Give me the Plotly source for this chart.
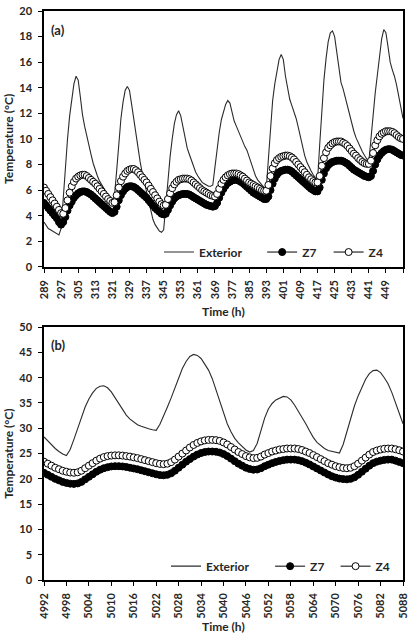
import plotly.graph_objects as go

# ---- panel (a): hours 289..457 ----
hours_a = list(range(289, 458))
ticks_a = list(range(289, 458, 8))
ticktext_a = [str(t) for t in ticks_a[:-1]] + [""]

exterior_a = [
    3.5, 3.2, 3.0, 2.9, 2.8, 2.7, 2.6, 2.5,          # 289
    3.0, 5.5, 8.0, 10.0, 11.8, 13.2, 14.3, 14.9,     # 297
    14.6, 13.3, 11.9, 11.0, 10.2, 9.5, 8.8, 8.1,     # 305
    7.5, 7.1, 6.7, 6.4, 6.1, 5.8, 5.5, 5.3,          # 313
    5.1, 5.6, 7.5, 9.8, 11.6, 12.9, 13.8, 14.1,      # 321
    13.8, 12.7, 11.5, 10.4, 9.2, 8.2, 7.3, 6.6,      # 329
    6.0, 5.2, 4.4, 3.7, 3.3, 3.0, 2.8, 2.7,          # 337
    2.9, 4.8, 6.8, 8.6, 10.0, 11.2, 11.9, 12.2,      # 345
    11.8, 10.9, 10.0, 9.3, 8.8, 8.3, 7.8, 7.4,       # 353
    7.1, 6.8, 6.6, 6.5, 6.4, 6.3, 6.3, 6.4,          # 361
    7.8, 9.3, 10.5, 11.5, 12.2, 12.7, 13.0, 12.8,    # 369
    12.1, 11.4, 11.0, 10.6, 10.1, 9.7, 9.4, 9.1,     # 377
    8.6, 8.0, 7.5, 7.1, 6.8, 6.6, 6.4, 6.2,          # 385
    6.1, 8.5, 11.0, 13.0, 14.3, 15.4, 16.2, 16.6,    # 393
    16.2, 14.9, 13.9, 13.1, 12.6, 12.1, 11.6, 10.9,  # 401
    10.1, 9.3, 8.7, 8.2, 7.8, 7.5, 7.2, 6.9,         # 409
    6.7, 9.5, 12.5, 14.6, 16.3, 17.6, 18.3, 18.45,   # 417
    18.0, 16.8, 15.3, 14.4, 13.9, 13.2, 12.5, 11.8,  # 425
    11.1, 10.6, 10.1, 9.7, 9.3, 9.0, 8.7, 8.4,       # 433
    8.2, 10.0, 12.0, 13.6, 15.0, 16.5, 17.8, 18.55,  # 441
    18.3, 17.2, 16.0, 15.4, 14.9, 14.2, 13.3, 12.4,  # 449
    11.6,                                            # 457
]

z7_a = [
    5.0, 4.8, 4.6, 4.4, 4.2, 4.0, 3.8, 3.5,
    3.3, 3.5, 3.9, 4.4, 4.8, 5.1, 5.4, 5.6,
    5.75, 5.85, 5.9, 5.9, 5.85, 5.75, 5.65, 5.5,
    5.35, 5.2, 5.05, 4.9, 4.75, 4.6, 4.45, 4.3,
    4.2, 4.3, 4.7, 5.2, 5.6, 5.9, 6.1, 6.25,
    6.3, 6.3, 6.25, 6.15, 6.0, 5.85, 5.7, 5.55,
    5.4, 5.2, 5.0, 4.8, 4.6, 4.45, 4.3, 4.15,
    4.1, 4.15, 4.45, 4.8, 5.1, 5.35, 5.5, 5.6,
    5.65, 5.7, 5.7, 5.7, 5.65, 5.55, 5.45, 5.35,
    5.25, 5.15, 5.05, 4.95, 4.85, 4.8, 4.75, 4.7,
    4.75, 5.0, 5.4, 5.8, 6.1, 6.35, 6.55, 6.65,
    6.75, 6.8, 6.8, 6.75, 6.65, 6.55, 6.4, 6.25,
    6.1, 5.95, 5.8, 5.7, 5.6, 5.5, 5.4, 5.3,
    5.3, 5.5, 6.0, 6.5, 6.9, 7.2, 7.4, 7.5,
    7.55, 7.6, 7.6, 7.55, 7.45, 7.3, 7.15, 7.0,
    6.85, 6.7, 6.55, 6.4, 6.25, 6.1, 6.0, 5.9,
    5.9, 6.2, 6.8, 7.3, 7.7, 7.95, 8.1, 8.2,
    8.25, 8.3, 8.3, 8.3, 8.25, 8.15, 8.05, 7.9,
    7.75, 7.6, 7.5, 7.4, 7.3, 7.2, 7.1, 7.05,
    7.0, 7.1, 7.5, 8.0, 8.4, 8.7, 8.9, 9.05,
    9.15, 9.2, 9.2, 9.15, 9.05, 8.95, 8.85, 8.75,
    8.7,
]

z4_a = [
    6.2, 5.95, 5.7, 5.45, 5.2, 4.95, 4.7, 4.45,
    4.2, 4.15, 4.6, 5.2, 5.8, 6.3, 6.65, 6.9,
    7.05, 7.15, 7.2, 7.2, 7.1, 6.95, 6.8, 6.65,
    6.5, 6.3, 6.1, 5.9, 5.7, 5.5, 5.3, 5.15,
    5.0, 5.05, 5.6, 6.2, 6.7, 7.05, 7.3, 7.5,
    7.6, 7.65, 7.65, 7.55, 7.4, 7.2, 7.0, 6.8,
    6.6, 6.35, 6.1, 5.85, 5.6, 5.35, 5.1, 4.9,
    4.8, 4.85, 5.3, 5.75, 6.15, 6.45, 6.65, 6.8,
    6.85, 6.9, 6.9, 6.9, 6.85, 6.75, 6.6, 6.45,
    6.3, 6.15, 6.0, 5.9, 5.8, 5.7, 5.6, 5.55,
    5.5, 5.7, 6.1, 6.5, 6.8, 7.0, 7.15, 7.25,
    7.3, 7.3, 7.3, 7.25, 7.15, 7.05, 6.9, 6.75,
    6.6, 6.5, 6.4, 6.3, 6.2, 6.1, 6.0, 5.95,
    5.95, 6.4, 7.1, 7.7, 8.1, 8.35, 8.5, 8.6,
    8.65, 8.7, 8.7, 8.65, 8.55, 8.4, 8.2, 8.0,
    7.8, 7.6, 7.4, 7.2, 7.0, 6.85, 6.7, 6.6,
    6.6, 7.1, 7.9, 8.5, 8.95, 9.3, 9.5, 9.65,
    9.75, 9.8, 9.8, 9.8, 9.7, 9.6, 9.45, 9.25,
    9.05, 8.85, 8.7, 8.5, 8.35, 8.2, 8.1, 8.05,
    8.05, 8.3, 8.9, 9.5, 9.9, 10.2, 10.4, 10.5,
    10.6, 10.6, 10.6, 10.55, 10.45, 10.3, 10.15, 10.05,
    10.0,
]

# ---- panel (b): hours 4992..5088 ----
hours_b = list(range(4992, 5089))
ticks_b = list(range(4992, 5089, 6))

exterior_b = [
    28.3, 27.5, 26.7, 26.0, 25.4, 24.9,   # 4992
    24.6, 25.8, 27.8, 30.0, 32.2, 34.2,   # 4998
    35.8, 37.0, 37.9, 38.3, 38.4, 38.0,   # 5004
    37.2, 36.0, 34.8, 33.6, 32.6, 31.8,   # 5010
    31.2, 30.7, 30.4, 30.1, 29.9, 29.7,   # 5016
    29.6, 30.8, 32.4, 34.2, 36.0, 38.0,   # 5022
    40.0, 41.8, 43.2, 44.2, 44.6, 44.4,   # 5028
    43.8, 42.6, 41.5, 39.8, 37.6, 35.4,   # 5034
    33.0, 30.9, 29.3, 28.0, 27.1, 26.3,   # 5040
    25.7, 25.3, 25.6, 27.0, 29.5, 32.0,   # 5046
    33.8, 34.9, 35.6, 36.0, 36.3, 36.2,   # 5052
    35.6, 34.6, 33.4, 32.2, 30.9, 29.5,   # 5058
    28.2, 27.2, 26.5, 26.0, 25.6, 25.4,   # 5064
    25.2, 25.1, 26.8, 29.4, 32.0, 34.4,   # 5070
    36.4, 38.2, 39.7, 40.8, 41.4, 41.5,   # 5076
    41.0, 40.0, 38.8, 37.1, 35.0, 32.8,   # 5082
    30.9,                                 # 5088
]

z7_b = [
    21.2, 20.8, 20.4, 20.0, 19.7, 19.4,
    19.2, 19.05, 19.0, 19.1, 19.4, 19.9,
    20.4, 20.9, 21.4, 21.8, 22.1, 22.3,
    22.45, 22.5, 22.5, 22.45, 22.35, 22.2,
    22.05, 21.9, 21.7, 21.5, 21.3, 21.1,
    20.9, 20.75, 20.7, 20.8, 21.1, 21.6,
    22.2, 22.8, 23.4, 23.9, 24.4, 24.8,
    25.1, 25.3, 25.4, 25.4, 25.35, 25.2,
    24.9, 24.5, 24.0, 23.5, 23.0, 22.6,
    22.2, 21.95, 21.8, 21.85, 22.1, 22.5,
    22.8, 23.1, 23.35, 23.55, 23.7, 23.8,
    23.8, 23.8, 23.7, 23.5, 23.2, 22.85,
    22.45, 22.05, 21.65, 21.25, 20.85, 20.5,
    20.25, 20.05, 19.95, 19.9, 20.0, 20.3,
    20.8, 21.4, 22.0, 22.6, 23.1, 23.4,
    23.6, 23.75, 23.8, 23.8, 23.6, 23.35,
    23.1,
]

z4_b = [
    23.4, 23.0, 22.6, 22.2, 21.9, 21.6,
    21.4, 21.25, 21.2, 21.3, 21.6, 22.1,
    22.6, 23.1, 23.6, 24.0, 24.3, 24.5,
    24.6, 24.65, 24.65, 24.6, 24.5, 24.4,
    24.25, 24.1, 23.9, 23.7, 23.5, 23.3,
    23.1, 22.95, 22.9, 23.0, 23.3, 23.8,
    24.4, 25.0, 25.6, 26.2, 26.7, 27.1,
    27.4, 27.6, 27.7, 27.7, 27.65, 27.5,
    27.2, 26.8, 26.3, 25.8, 25.3, 24.9,
    24.5, 24.25, 24.1, 24.15, 24.4, 24.8,
    25.1, 25.4, 25.6, 25.8, 25.9, 26.0,
    26.0, 26.0, 25.9, 25.7, 25.4, 25.1,
    24.7, 24.3, 23.9, 23.5, 23.1, 22.8,
    22.5, 22.3, 22.15, 22.1, 22.2, 22.5,
    23.0, 23.6, 24.2, 24.8, 25.3, 25.6,
    25.8, 25.95, 26.0, 26.0, 25.85, 25.65,
    25.4,
]

FONT = "Lato"
TXT = "#262626"


def add_panel(fig, x, ext, z7, z4, xa, ya, legs):
    fig.add_trace(go.Scatter(x=x, y=ext, name="Exterior", mode="lines",
                             line=dict(color="#2b2b2b", width=1.1),
                             xaxis=xa, yaxis=ya, legend=legs[0], showlegend=True))
    fig.add_trace(go.Scatter(x=x, y=z7, name="Z7", mode="lines+markers",
                             line=dict(color="black", width=1),
                             marker=dict(symbol="circle", size=7, color="black",
                                         line=dict(color="black", width=1)),
                             xaxis=xa, yaxis=ya, legend=legs[1], showlegend=True))
    fig.add_trace(go.Scatter(x=x, y=z4, name="Z4", mode="lines+markers",
                             line=dict(color="black", width=1),
                             marker=dict(symbol="circle", size=7, color="white",
                                         line=dict(color="black", width=1)),
                             xaxis=xa, yaxis=ya, legend=legs[2], showlegend=True))


fig = go.Figure()
add_panel(fig, hours_a, exterior_a, z7_a, z4_a, "x", "y",
          ["legend", "legend2", "legend3"])
add_panel(fig, hours_b, exterior_b, z7_b, z4_b, "x2", "y2",
          ["legend4", "legend5", "legend6"])

tick_font = dict(family=FONT, size=11, color=TXT, weight="bold")
title_font = dict(family=FONT, size=12, color=TXT, weight="bold")
legend_font = dict(family=FONT, size=12, color=TXT, weight="bold")
axis_common = dict(showline=True, linecolor="black", linewidth=1.5, mirror=True,
                   ticks="outside", ticklen=4, tickcolor="black", tickwidth=1,
                   showgrid=False, zeroline=False, tickfont=tick_font,
                   ticklabeloverflow="allow")

top_dom = [(580 - 263) / 576, 1.0]
bot_dom = [0.0, (580 - 324) / 576]


def py(pixel_y):
    # paper fraction for a pixel row (plot area spans rows 4..580)
    return (580 - pixel_y) / 576


def px(pixel_x):
    return (pixel_x - 44) / 362


def legend_at(x_pix, y_pix):
    return dict(orientation="h", x=px(x_pix), xanchor="left", y=py(y_pix),
                yanchor="middle", bgcolor="rgba(0,0,0,0)", font=legend_font)


fig.update_layout(
    width=413, height=640,
    margin=dict(l=44, r=7, t=4, b=60),
    showlegend=True,
    paper_bgcolor="white", plot_bgcolor="white",
    font=dict(family=FONT, color=TXT),
    xaxis=dict(axis_common, domain=[0, 1], anchor="y", range=[289, 457],
               tickmode="array", tickvals=ticks_a, ticktext=ticktext_a, tickangle=-90,
               ticklabelstandoff=3),
    yaxis=dict(axis_common, domain=top_dom, anchor="x", range=[0, 20], dtick=2,
               ticklabelstandoff=4,
               title=dict(text="Temperature (°C)", standoff=3, font=title_font)),
    xaxis2=dict(axis_common, domain=[0, 1], anchor="y2", range=[4992, 5088],
                tickmode="array", tickvals=ticks_b, tickangle=-90,
                ticklabelstandoff=3),
    yaxis2=dict(axis_common, domain=bot_dom, anchor="x2", range=[0, 50], dtick=5,
                ticklabelstandoff=4,
                title=dict(text="Temperature (°C)", standoff=3, font=title_font)),
    legend=legend_at(160, 248),
    legend2=legend_at(264, 248),
    legend3=legend_at(331, 248),
    legend4=legend_at(167, 566),
    legend5=legend_at(272, 566),
    legend6=legend_at(338, 566),
    annotations=[
        dict(text="(a)", xref="x domain", yref="y domain", x=0.015, y=0.925,
             xanchor="left", yanchor="middle", showarrow=False,
             font=dict(family=FONT, size=13, color=TXT, weight="bold")),
        dict(text="(b)", xref="x2 domain", yref="y2 domain", x=0.015, y=0.93,
             xanchor="left", yanchor="middle", showarrow=False,
             font=dict(family=FONT, size=13, color=TXT, weight="bold")),
        dict(text="Time (h)", xref="paper", yref="paper", x=0.5, y=py(308),
             xanchor="center", yanchor="middle", showarrow=False, font=title_font),
        dict(text="Time (h)", xref="paper", yref="paper", x=0.5, y=py(627),
             xanchor="center", yanchor="middle", showarrow=False, font=title_font),
    ],
)

# the page's default body margin would push the 413x640 figure out of the window
fig.write_html("out.html", config={"displayModeBar": False},
               post_script="document.body.style.margin='0';")
